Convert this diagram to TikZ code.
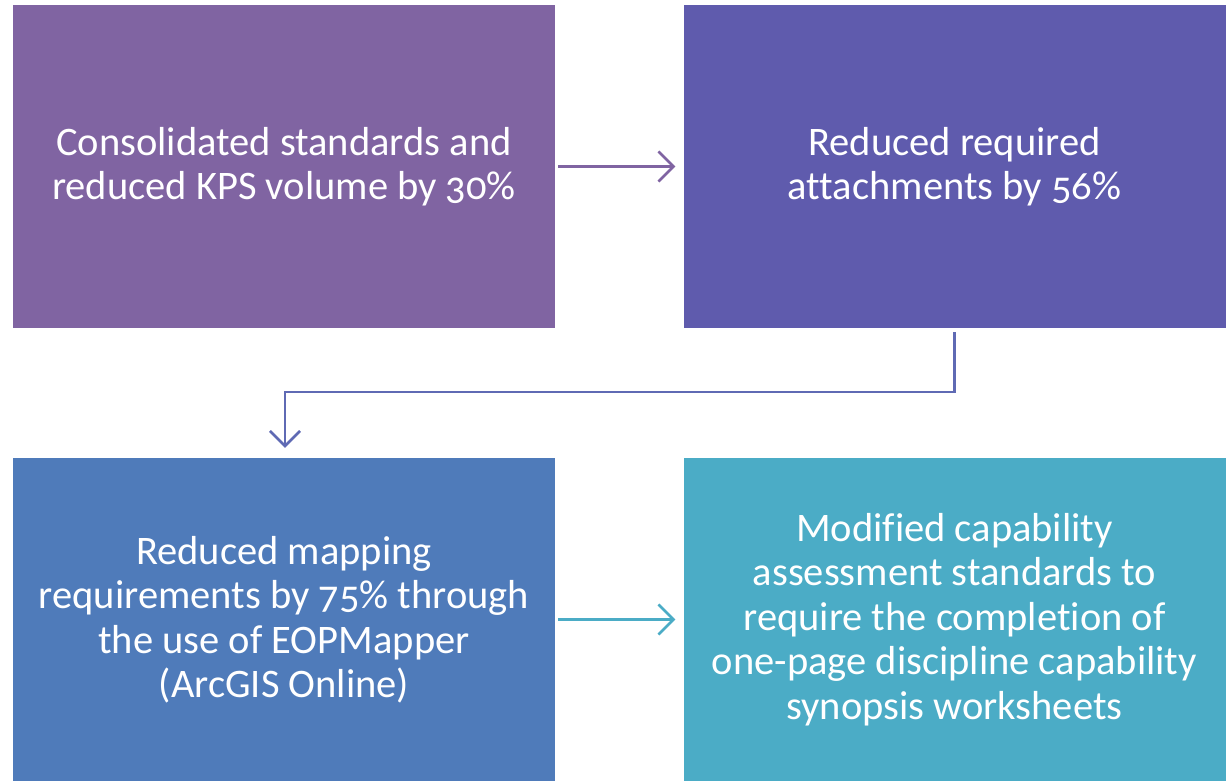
\documentclass[tikz,border=0pt]{standalone}
\usepackage{fontspec}
\setmainfont{Carlito}[Numbers=OldStyle, RawFeature={-liga}]
\usepackage{tikz}
\usetikzlibrary{arrows.meta, calc}

\definecolor{boxA}{HTML}{8064A2}
\definecolor{boxB}{HTML}{5F5BAD}
\definecolor{boxC}{HTML}{4F7BBA}
\definecolor{boxD}{HTML}{4BACC6}
\definecolor{lineB}{HTML}{5F6AB4}

\tikzset{
  stepbox/.style={rectangle, fill=#1, text=white, minimum width=542, minimum height=323, align=center, inner sep=0, font=\fontsize{40.5}{44.5}\selectfont},
  flow/.style={draw=#1, line width=2.6, -{Straight Barb[length=15, width=30, line width=2.6]}}
}

\begin{document}
\begin{tikzpicture}[x=1pt, y=-1pt]
                        \useasboundingbox (0,0) rectangle (1227,781);
                        \node[stepbox=boxA] (cons) at (284,166.5) {Consolidated standards and\\reduced KPS volume by 30\%};
                        \node[stepbox=boxB] (attach) at (954.5,166.5) {Reduced required\\attachments by 56\%};
                        \node[stepbox=boxC] (mapping) at (284,619.5) {Reduced mapping\\requirements by 75\% through\\the use of EOPMapper\\(ArcGIS Online)};
                        \node[stepbox=boxD] (assess) at (954.5,619.5) {Modified capability\\assessment standards to\\require the completion of\\one-page discipline capability\\synopsis worksheets};
                        \coordinate (bend) at (285,392);
                        \draw[flow=boxA, shorten <=3, shorten >=8] (cons) -- (attach);
                        \draw[flow=lineB, shorten <=4, shorten >=10] (attach.south) |- (bend) -- (bend |- mapping.north);
                        \draw[flow=boxD, shorten <=3, shorten >=8] (mapping) -- (assess);
                    \end{tikzpicture}
\end{document}
